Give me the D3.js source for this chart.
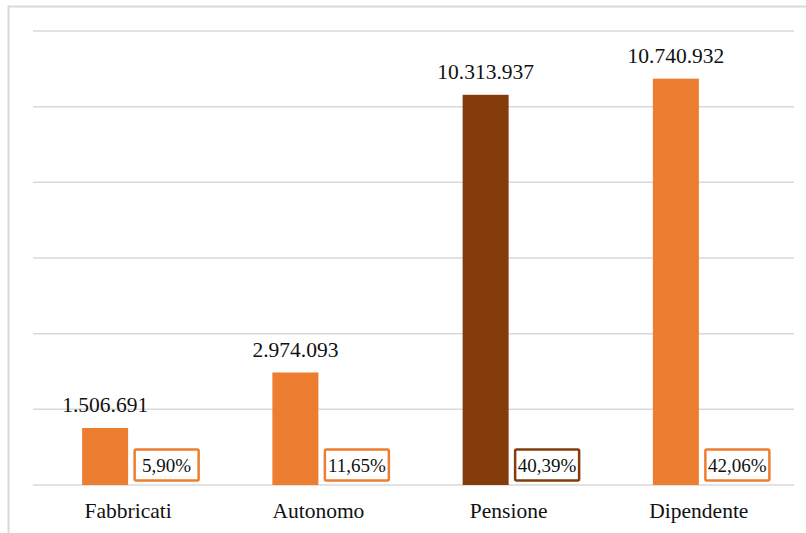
<!DOCTYPE html>
<html><head><meta charset="utf-8">
<script src="https://cdn.jsdelivr.net/npm/d3@7"></script>
<style>
body{margin:0;background:#fff}
svg{display:block}
svg text{font-family:"Liberation Serif","Times New Roman",Times,serif !important;fill:#111}
</style>
</head><body>
<script>
const categories = ["Fabbricati", "Autonomo", "Pensione", "Dipendente"];
const values = [1506691, 2974093, 10313937, 10740932];
const percents = [5.90, 11.65, 40.39, 42.06];
const colors = ["#ED7D31", "#ED7D31", "#843C0C", "#ED7D31"];
const yTicks = [0, 2000000, 4000000, 6000000, 8000000, 10000000, 12000000];

const W = 806, H = 533;
const svg = d3.select("body").append("svg").attr("width", W).attr("height", H);
const itLocale = d3.formatLocale({decimal: ",", thousands: ".", grouping: [3], currency: ["€", ""]});
const fmtInt = itLocale.format(",d");
const fmtPct = itLocale.format(".2f");

// outer frame
svg.append("path").attr("d", "M8.5,533 V6.5 H806").attr("fill", "none").attr("stroke", "#d9d9d9").attr("stroke-width", 2);

const x = d3.scaleBand().domain(categories).range([33, 794]);
const y = d3.scaleLinear().domain([0, 12000000]).range([485, 31]);

svg.append("g").selectAll("line").data(yTicks).join("line")
  .attr("x1", 33).attr("x2", 794)
  .attr("y1", d => y(d)).attr("y2", d => y(d))
  .attr("stroke", "#d9d9d9").attr("stroke-width", 1.5);

const bw = 46;
const serif = "Liberation Serif";
const g = svg.append("g");
function label(px, py, size, txt) {
  return g.append("text").attr("x", px).attr("y", py)
    .attr("text-anchor", "middle").attr("font-size", size)
    .attr("font-family", serif)
    .style("font-family", serif, "important")
    .text(txt);
}
categories.forEach((c, i) => {
  const cx = x(c) + x.bandwidth() / 2;
  g.append("rect").attr("x", cx - bw).attr("width", bw)
    .attr("y", y(values[i])).attr("height", y(0) - y(values[i]))
    .attr("fill", colors[i]);
  label(cx - bw / 2, y(values[i]) - 15.5, 21.5, fmtInt(values[i]));
  g.append("rect").attr("x", cx + 6.5).attr("y", 449.5).attr("width", 64).attr("height", 31)
    .attr("fill", "#fff").attr("stroke", colors[i]).attr("stroke-width", 2.5).attr("rx", 1.5);
  label(cx + 38.5, 472, 19, fmtPct(percents[i]) + "%");
  label(cx, 518, 21.5, c);
});
</script>
</body></html>
